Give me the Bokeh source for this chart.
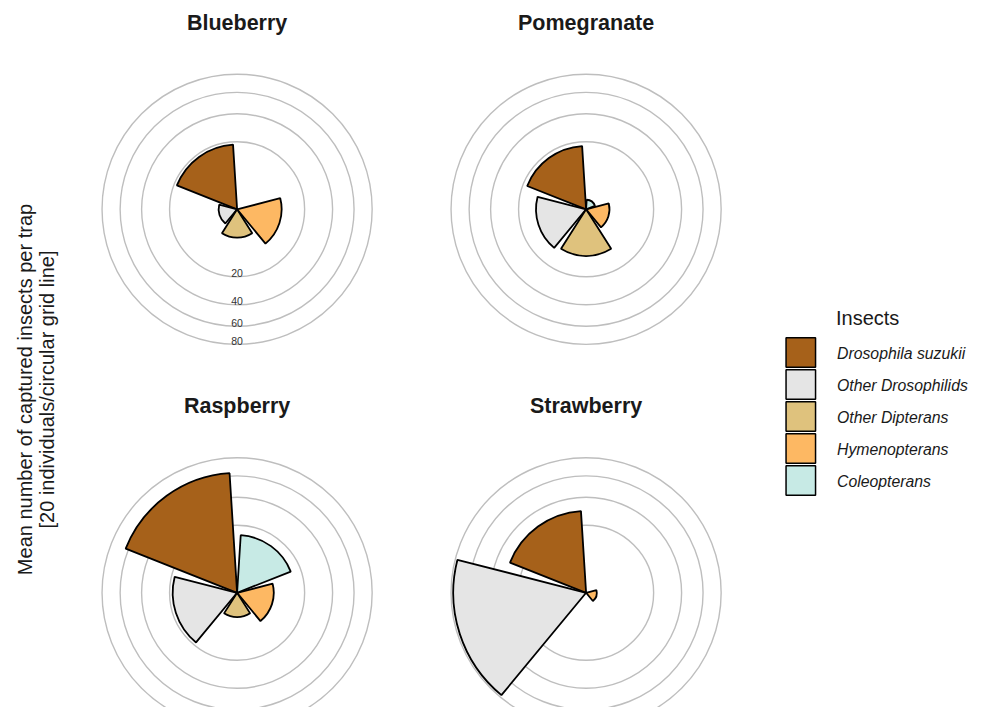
import numpy as np
from bokeh.plotting import figure
from bokeh.models import ColumnDataSource, Range1d, Label
from bokeh.layouts import row, column
from bokeh.embed import file_html
from bokeh.resources import INLINE
from bokeh.core.properties import value

# ---------------- data ----------------
fruits = ["Blueberry", "Pomegranate", "Raspberry", "Strawberry"]
insects = ["Drosophila suzukii", "Other Drosophilids", "Other Dipterans",
           "Hymenopterans", "Coleopterans"]
colors = ["#A6611A", "#E5E5E5", "#DFC27D", "#FDB863", "#C7EAE5"]
# mean number of captured insects per trap (same order as `insects`)
blueberry = [18.4, 1.5, 3.5, 8.7, 0.0]
pomegranate = [17.6, 11.0, 9.6, 2.4, 0.4]
raspberry = [63.0, 18.2, 2.6, 5.9, 14.6]
strawberry = [29.4, 77.4, 0.0, 0.5, 0.0]
grid_breaks = [20, 40, 60, 80]
y_title = ["Mean number of captured insects per trap",
           "[20 individuals/circular grid line]"]
legend_title = "Insects"

values = {"Blueberry": blueberry, "Pomegranate": pomegranate,
          "Raspberry": raspberry, "Strawberry": strawberry}

# ---------------- layout constants ----------------
FONT = "Liberation Sans"
K = 15.1            # pixels per sqrt(count) unit
PW = 349            # panel width
H_TOP, H_BOT = 392, 315
LEFT_OFF = 166.6    # pixel offset of polar centre from panel left
TOP_OFF = {"top": 208.8, "bot": 200.3}
TITLE_UP = 186.5    # pixels from polar centre up to title middle

n = len(insects)
step = 2 * np.pi / n
# clockwise from 12 o'clock: Coleopterans first ... Drosophila suzukii last
pos = np.array([n - i for i in range(n)], dtype=float)
theta_c = (pos - 0.5) * step
half = 0.45 * step
start_angles = np.pi / 2 - (theta_c + half)
end_angles = np.pi / 2 - (theta_c - half)


def blank(w, h, xr, yr):
    p = figure(width=w, height=h, x_range=xr, y_range=yr,
               output_backend="svg", toolbar_location=None,
               x_axis_location=None, y_axis_location=None, min_border=0,
               outline_line_color=None, background_fill_color="white",
               border_fill_color="white")
    p.xgrid.grid_line_color = None
    p.ygrid.grid_line_color = None
    p.grid.visible = False
    return p


def panel(name, h, top_off, show_labels):
    x0 = -LEFT_OFF / K
    x1 = (PW - LEFT_OFF) / K
    y1 = top_off / K
    y0 = -(h - top_off) / K
    p = blank(PW, h, Range1d(x0, x1), Range1d(y0, y1))
    rb = np.sqrt(np.array(grid_breaks, dtype=float))
    p.circle(x=np.zeros(len(rb)), y=np.zeros(len(rb)), radius=rb,
             fill_color=None, line_color="#BEBEBE", line_width=1.4)
    vals = np.array(values[name], dtype=float)
    keep = vals > 0
    src = ColumnDataSource(dict(
        x=np.zeros(keep.sum()), y=np.zeros(keep.sum()),
        r=np.sqrt(vals[keep]),
        start=start_angles[keep], end=end_angles[keep],
        color=[c for c, k in zip(colors, keep) if k],
        insect=[s for s, k in zip(insects, keep) if k],
    ))
    p.wedge(x="x", y="y", radius="r", start_angle="start", end_angle="end",
            direction="anticlock", fill_color="color", line_color="black",
            line_width=1.8, source=src)
    if show_labels:
        p.text(x=np.zeros(len(rb)), y=-rb + 3.6 / K, text=[str(b) for b in grid_breaks],
               text_align="center", text_baseline="alphabetic",
               text_font=value(FONT), text_font_size="10.5px", text_color="#333333")
    p.add_layout(Label(x=0, y=TITLE_UP / K, text=name, text_align="center",
                       text_baseline="middle", text_font=FONT,
                       text_font_style="bold", text_font_size="21.5px",
                       text_color="#1A1A1A"))
    return p


pb = panel("Blueberry", H_TOP, TOP_OFF["top"], True)
pp = panel("Pomegranate", H_TOP, TOP_OFF["top"], False)
pr = panel("Raspberry", H_BOT, TOP_OFF["bot"], False)
ps = panel("Strawberry", H_BOT, TOP_OFF["bot"], False)

# ---------------- y title ----------------
TOTAL_H = H_TOP + H_BOT
YW = 70
yl = blank(YW, TOTAL_H, Range1d(0, YW), Range1d(0, TOTAL_H))
yl.text(x=[24.0, 46.0], y=[TOTAL_H - 389] * 2, text=y_title, angle=np.pi / 2,
        text_align="center", text_baseline="alphabetic", text_font=value(FONT),
        text_font_size="20px", text_color="#1A1A1A")

# ---------------- legend ----------------
LW = 970 - YW - 2 * PW
lg = blank(LW, TOTAL_H, Range1d(0, LW), Range1d(TOTAL_H, 0))
key_y = 352 + 32 * np.arange(n)
lg.rect(x=np.full(n, 32.3), y=key_y, width=29.5, height=29.5, fill_color=colors,
        line_color="black", line_width=1.5)
lg.text(x=np.full(n, 68.5), y=key_y + 1, text=insects, text_baseline="middle",
        text_font=value(FONT), text_font_style="italic", text_font_size="15.8px",
        text_color="#1A1A1A")
lg.text(x=[67.5], y=[317.5], text=[legend_title], text_baseline="middle",
        text_font=value(FONT), text_font_size="20px", text_color="#1A1A1A")

layout = row(yl, column(row(pb, pp), row(pr, ps)), lg)

with open("out.html", "w") as f:
    f.write(file_html(layout, INLINE))
